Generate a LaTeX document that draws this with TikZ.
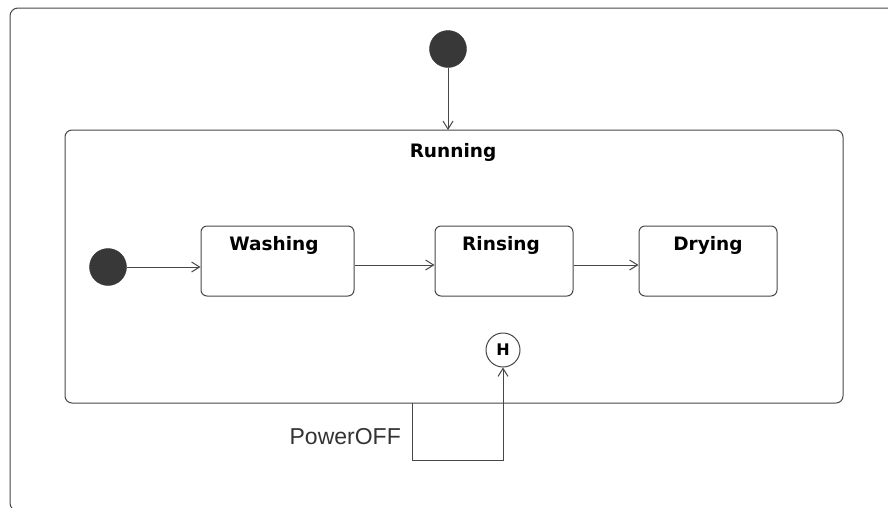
\documentclass[tikz,border=0pt]{standalone}
\usepackage{fontspec}
\setmainfont{Liberation Sans}
\newfontfamily\statefont{DejaVu Sans}
\usetikzlibrary{arrows.meta}
\begin{document}
\begin{tikzpicture}[x=1pt,y=-1pt,
  line/.style={draw=black!72,line width=1pt},
  trans/.style={line,-{Straight Barb[length=8pt,width=10pt,line width=1pt]}},
  initstate/.style={circle,fill=black!78,draw=black!78,minimum size=37pt,inner sep=0pt},
  statebox/.style={line,rounded corners=6pt,minimum width=#1,minimum height=70pt,inner sep=0pt},
  statelabel/.style={font=\statefont\bfseries\fontsize{18.5}{20}\selectfont,text=black,inner sep=0pt},
  hist/.style={circle,line,minimum size=34pt,inner sep=0pt,fill=white,font=\statefont\bfseries\fontsize{16}{18}\selectfont}
]
\useasboundingbox (0,0) rectangle (888,507);
\fill[white] (0,0) rectangle (888,507);
\begin{scope}
\clip (0,0) rectangle (888,507);
\draw[line,rounded corners=8pt] (10,8) rectangle (910,511);
\end{scope}
% Running composite state
\draw[line,rounded corners=7pt] (65,130) rectangle (843,403);
\coordinate (runtop) at (448,130);
\node[statelabel] (running) at (453,152) {Running};
% top initial
\node[initstate] (init) at (448,49) {};
\draw[trans] (init) -- (runtop);
% inner states
\node[initstate] (init2) at (108,267) {};
\node[statebox=153pt] (washing) at (277.5,261) {};
\node[statebox=138pt] (rinsing) at (504,261) {};
\node[statebox=138pt] (drying) at (708,261) {};
\node[statelabel] at (274,245) {Washing};
\node[statelabel] at (501,245) {Rinsing};
\node[statelabel] at (708,245) {Drying};
\draw[trans] (init2) -- (init2 -| washing.west);
\draw[trans] (washing.east |- 0,265) -- (rinsing.west |- 0,265);
\draw[trans] (rinsing.east |- 0,265) -- (drying.west |- 0,265);
% history
\node[hist] (h) at (503,350) {H};
\coordinate (poff) at (412,403);
\draw[trans] (poff) -- (412,460) -- (503,460) -- (h.south);
\node[anchor=east,inner sep=0pt,text=black!80,font=\fontsize{23}{26}\selectfont] (plabel) at (401,437) {PowerOFF};
\end{tikzpicture}
\end{document}
